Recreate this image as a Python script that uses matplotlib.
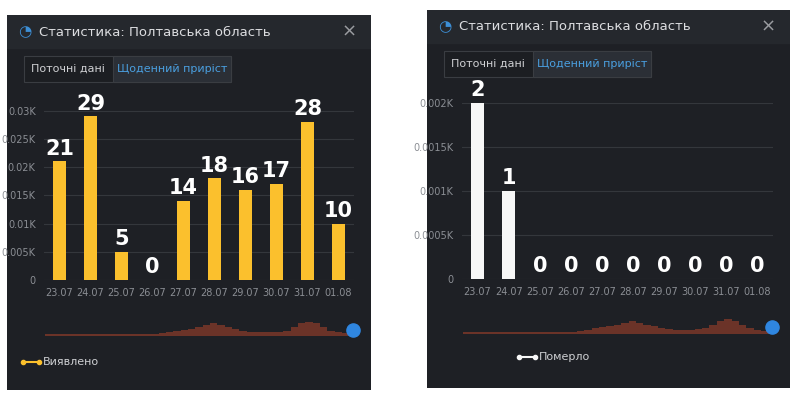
import numpy as np
import matplotlib.pyplot as plt
from matplotlib.patches import Rectangle, FancyBboxPatch

dates = ['23.07', '24.07', '25.07', '26.07', '27.07', '28.07', '29.07', '30.07', '31.07', '01.08']
detected = [21, 29, 5, 0, 14, 18, 16, 17, 28, 10]
died = [2, 1, 0, 0, 0, 0, 0, 0, 0, 0]
left_ticks = [0, 5, 10, 15, 20, 25, 30]
left_tick_labels = ['0', '0.005K', '0.01K', '0.015K', '0.02K', '0.025K', '0.03K']
right_ticks = [0, 0.5, 1, 1.5, 2]
right_tick_labels = ['0', '0.0005K', '0.001K', '0.0015K', '0.002K']
# rough shape of the range-slider preview
mini = [1, 1, 1, 1, 1, 1, 1, 1, 1, 1, 1, 1, 1, 1, 1, 1, 1.5, 2, 3, 3.5, 4, 5, 6, 7, 6, 5, 4, 3,
        2.5, 2, 2, 2, 2.5, 3, 5, 7, 8, 7, 5, 3, 2, 1.5, 1]

W, H = 800, 409
BG = '#1e2025'
HEAD = '#25282d'
GRID = '#34373c'
TICK = '#8b8e94'

fig = plt.figure(figsize=(8, 4.09), dpi=100)
fig.patch.set_facecolor('white')


def box(x0, y0, x1, y1):
    # pixel box (top-left origin) -> figure fraction rect
    return [x0 / W, 1 - y1 / H, (x1 - x0) / W, (y1 - y0) / H]


def panel(px0, py0, px1, py1, ax_rect, values, ticks, tick_labels, color, legend, legend_x, top):
    bg = fig.add_axes(box(px0, py0, px1, py1))
    bg.set_xlim(0, px1 - px0)
    bg.set_ylim(py1 - py0, 0)
    bg.axis('off')
    bg.add_patch(Rectangle((0, 0), px1 - px0, py1 - py0, color=BG))
    bg.add_patch(Rectangle((0, 0), px1 - px0, 33, color=HEAD))
    bg.text(18, 17, '◔', color='#3d8fd6', fontsize=11, va='center', ha='center')
    bg.text(32, 17, 'Статистика: Полтавська область', color='#dcdde0', fontsize=9.5, va='center')
    bg.text(px1 - px0 - 22, 17, '×', color='#9a9ca0', fontsize=13, va='center', ha='center')
    # tabs
    bg.add_patch(Rectangle((17, 41), 207, 26, facecolor='#1c1e22', edgecolor='#3a3d42', lw=0.8))
    bg.add_patch(Rectangle((106, 41), 118, 26, facecolor='#2b2f36', edgecolor='#3a3d42', lw=0.8))
    bg.text(61, 54, 'Поточні дані', color='#cfd0d3', fontsize=8, va='center', ha='center')
    bg.text(165, 54, 'Щоденний приріст', color='#4a9fe0', fontsize=8, va='center', ha='center')
    # legend
    ly = 347
    bg.plot([legend_x, legend_x + 16], [ly, ly], color=color, lw=1.5, marker='o', ms=3)
    bg.text(legend_x + 20, ly, legend, color='#cfd0d3', fontsize=8, va='center')

    ax = fig.add_axes(ax_rect)
    ax.set_facecolor('none')
    x = np.arange(len(dates))
    ax.bar(x, values, width=0.42, color=color, zorder=3)
    ax.set_xlim(-0.5, len(dates) - 0.5)
    ax.set_ylim(0, top)
    ax.set_yticks(ticks)
    ax.set_yticklabels(tick_labels)
    ax.set_xticks(x)
    ax.set_xticklabels(dates)
    ax.grid(axis='y', color=GRID, lw=0.8, zorder=0)
    ax.tick_params(colors=TICK, labelsize=7, length=0, pad=6)
    for s in ax.spines.values():
        s.set_visible(False)
    ymax = ax.get_ylim()[1]
    for xi, v in zip(x, values):
        ax.text(xi, v + ymax * 0.015, str(v), color='white', fontsize=15, fontweight='bold',
                ha='center', va='bottom', zorder=4)
    return ax


def minimap(rect):
    m = fig.add_axes(rect)
    m.fill_between(np.arange(len(mini)), 0, mini, color='#6b3328', step='mid', lw=0)
    m.set_xlim(0, len(mini) - 1)
    m.set_ylim(0, 10)
    m.axis('off')
    m.scatter([len(mini) - 1], [3.5], s=90, color='#2f86e0', zorder=3, clip_on=False)


ax1 = panel(7, 15, 371, 390, box(44, 105, 354, 280), detected, left_ticks, left_tick_labels,
            '#fbc02d', 'Виявлено', 16, 31)
minimap(box(45, 318, 353, 336))
ax2 = panel(427, 10, 790, 388, box(462, 103, 773, 279), died, right_ticks, right_tick_labels,
            '#f7f7f7', 'Померло', 92, 2.0)
minimap(box(463, 315, 772, 334))

plt.savefig('out.png', dpi=100, facecolor=fig.get_facecolor())
